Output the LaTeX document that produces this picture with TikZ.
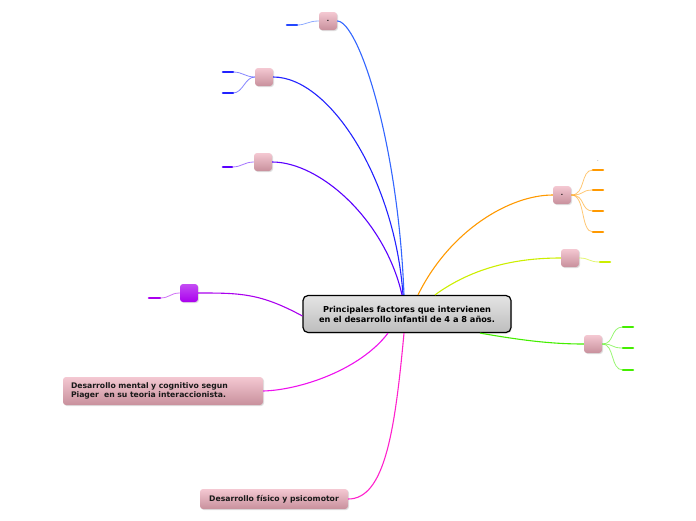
\documentclass[tikz,border=0pt]{standalone}
\usepackage{fontspec}
\setmainfont{DejaVu Sans}
\usetikzlibrary{shadows}

\definecolor{rosaA}{HTML}{F4C8D2}
\definecolor{rosaB}{HTML}{C8909C}
\definecolor{grisA}{HTML}{E4E4E4}
\definecolor{grisB}{HTML}{BDBDBD}
\definecolor{azulA}{HTML}{3366FF}
\definecolor{azulB}{HTML}{2222FF}
\definecolor{violeta}{HTML}{5A00FF}
\definecolor{morado}{HTML}{AA00EE}
\definecolor{magenta}{HTML}{EE11EE}
\definecolor{fucsia}{HTML}{FF22CC}
\definecolor{naranja}{HTML}{FF9900}
\definecolor{lima}{HTML}{CCEE00}
\definecolor{verde}{HTML}{44EE00}

\begin{document}
\begin{tikzpicture}[x=1pt, y=-1pt,
    centro/.style={draw=black, line width=1.2pt, rounded corners=5pt,
      top color=grisA, bottom color=grisB, align=center,
      minimum width=208pt, minimum height=37pt, inner sep=2pt,
      font=\bfseries\fontsize{8.2}{10}\selectfont,
      drop shadow={opacity=0.25, shadow xshift=1pt, shadow yshift=-1pt}},
    tema/.style={rounded corners=3pt, top color=rosaA, bottom color=rosaB,
      minimum size=18pt, inner sep=0pt, font=\bfseries\fontsize{6}{6}\selectfont,
      drop shadow={opacity=0.25, shadow xshift=1pt, shadow yshift=-1pt}},
    texto/.style={tema, align=left, inner xsep=8pt, text=black!90,
      font=\bfseries\fontsize{7.7}{9}\selectfont},
    rama/.style={line width=1.1pt},
    sub/.style={line width=0.8pt, opacity=0.55},
    guion/.style={line width=2.6pt, line cap=round}]
  \useasboundingbox (0,0) rectangle (696,520);

  % Nodo central
  \node[centro] (c) at (407,314)
    {Principales factores que intervienen\\en el desarrollo infantil de 4 a 8 años.};

  % Temas principales
  \node[tema] (t1) at (328,21) {.};
  \node[tema] (t2) at (264,77) {};
  \node[tema] (t3) at (263,162) {};
  \node[tema, top color=morado!70, bottom color=morado] (t4) at (189,293) {};
  \node[texto, text width=184pt, minimum height=28pt] (t5) at (163,391)
    {Desarrollo mental y cognitivo segun\\Piager\ \ en su teoria interaccionista.};
  \node[texto, minimum width=148pt, minimum height=20pt, align=center] (t6) at (274,499)
    {Desarrollo físico y psicomotor};
  \node[tema] (t7) at (562,195) {.};
  \node[tema] (t8) at (570,258) {};
  \node[tema] (t9) at (593,344) {};

  % Ramas desde el centro
  \draw[rama, azulA] ([xshift=-3pt]c.north) .. controls (398,140) and (358,21) .. (t1.east);
  \draw[rama, azulB] ([xshift=-4pt]c.north) .. controls (395,180) and (330,77) .. (t2.east);
  \draw[rama, violeta] ([xshift=-5pt]c.north) .. controls (385,220) and (320,162) .. (t3.east);
  \draw[rama, morado] ([yshift=-2pt]c.west) .. controls (260,293) and (240,293) .. (t4.east);
  \draw[rama, magenta] ([xshift=-19pt]c.south) .. controls (360,370) and (300,390) .. (t5.east);
  \draw[rama, fucsia] ([xshift=-3pt]c.south) .. controls (395,430) and (385,499) .. (t6.east);
  \draw[rama, naranja] ([xshift=11pt]c.north) .. controls (450,230) and (510,195) .. (t7.west);
  \draw[rama, lima] ([xshift=28pt]c.north) .. controls (480,262) and (530,258) .. (t8.west);
  \draw[rama, verde] ([xshift=73pt]c.south) .. controls (520,340) and (550,344) .. (t9.west);

  % Subtemas (guiones)
  \coordinate (h1) at (297,25);
  \draw[sub, azulA] (t1.west) .. controls (308,21) and (306,25) .. (h1);
  \draw[guion, azulA!70!blue] (h1) -- ++(-10,0);

  \coordinate (h21) at (233,72);
  \coordinate (h22) at (233,93);
  \draw[sub, azulB] (t2.west) .. controls (245,77) and (243,72) .. (h21);
  \draw[sub, azulB] (t2.west) .. controls (245,77) and (243,93) .. (h22);
  \draw[guion, azulB] (h21) -- ++(-10,0);
  \draw[guion, azulB] (h22) -- ++(-10,0);

  \coordinate (h3) at (232,167);
  \draw[sub, violeta] (t3.west) .. controls (244,162) and (242,167) .. (h3);
  \draw[guion, violeta] (h3) -- ++(-9,0);

  \coordinate (h4) at (160,298);
  \draw[sub, morado] (t4.west) .. controls (170,293) and (170,298) .. (h4);
  \draw[guion, morado] (h4) -- ++(-11,0);

  \coordinate (h71) at (593,170);
  \coordinate (h72) at (593,190);
  \coordinate (h73) at (593,211);
  \coordinate (h74) at (593,232);
  \draw[sub, naranja] (t7.east) .. controls (586,195) and (580,170) .. (h71);
  \draw[sub, naranja] (t7.east) .. controls (586,195) and (580,190) .. (h72);
  \draw[sub, naranja] (t7.east) .. controls (586,195) and (580,211) .. (h73);
  \draw[sub, naranja] (t7.east) .. controls (586,195) and (580,232) .. (h74);
  \draw[guion, naranja] (h71) -- ++(10,0);
  \draw[guion, naranja] (h72) -- ++(10,0);
  \draw[guion, naranja] (h73) -- ++(10,0);
  \draw[guion, naranja] (h74) -- ++(10,0);
  \node[font=\fontsize{4}{4}\selectfont, inner sep=0pt] (p7) at (598,161) {.};

  \coordinate (h8) at (600,262);
  \draw[sub, lima] (t8.east) .. controls (590,258) and (588,262) .. (h8);
  \draw[guion, lima] (h8) -- ++(10,0);

  \coordinate (h91) at (623,327);
  \coordinate (h92) at (623,348);
  \coordinate (h93) at (623,370);
  \draw[sub, verde] (t9.east) .. controls (615,344) and (610,327) .. (h91);
  \draw[sub, verde] (t9.east) .. controls (615,344) and (610,348) .. (h92);
  \draw[sub, verde] (t9.east) .. controls (615,344) and (610,370) .. (h93);
  \draw[guion, verde] (h91) -- ++(10,0);
  \draw[guion, verde] (h92) -- ++(10,0);
  \draw[guion, verde] (h93) -- ++(10,0);
\end{tikzpicture}
\end{document}
